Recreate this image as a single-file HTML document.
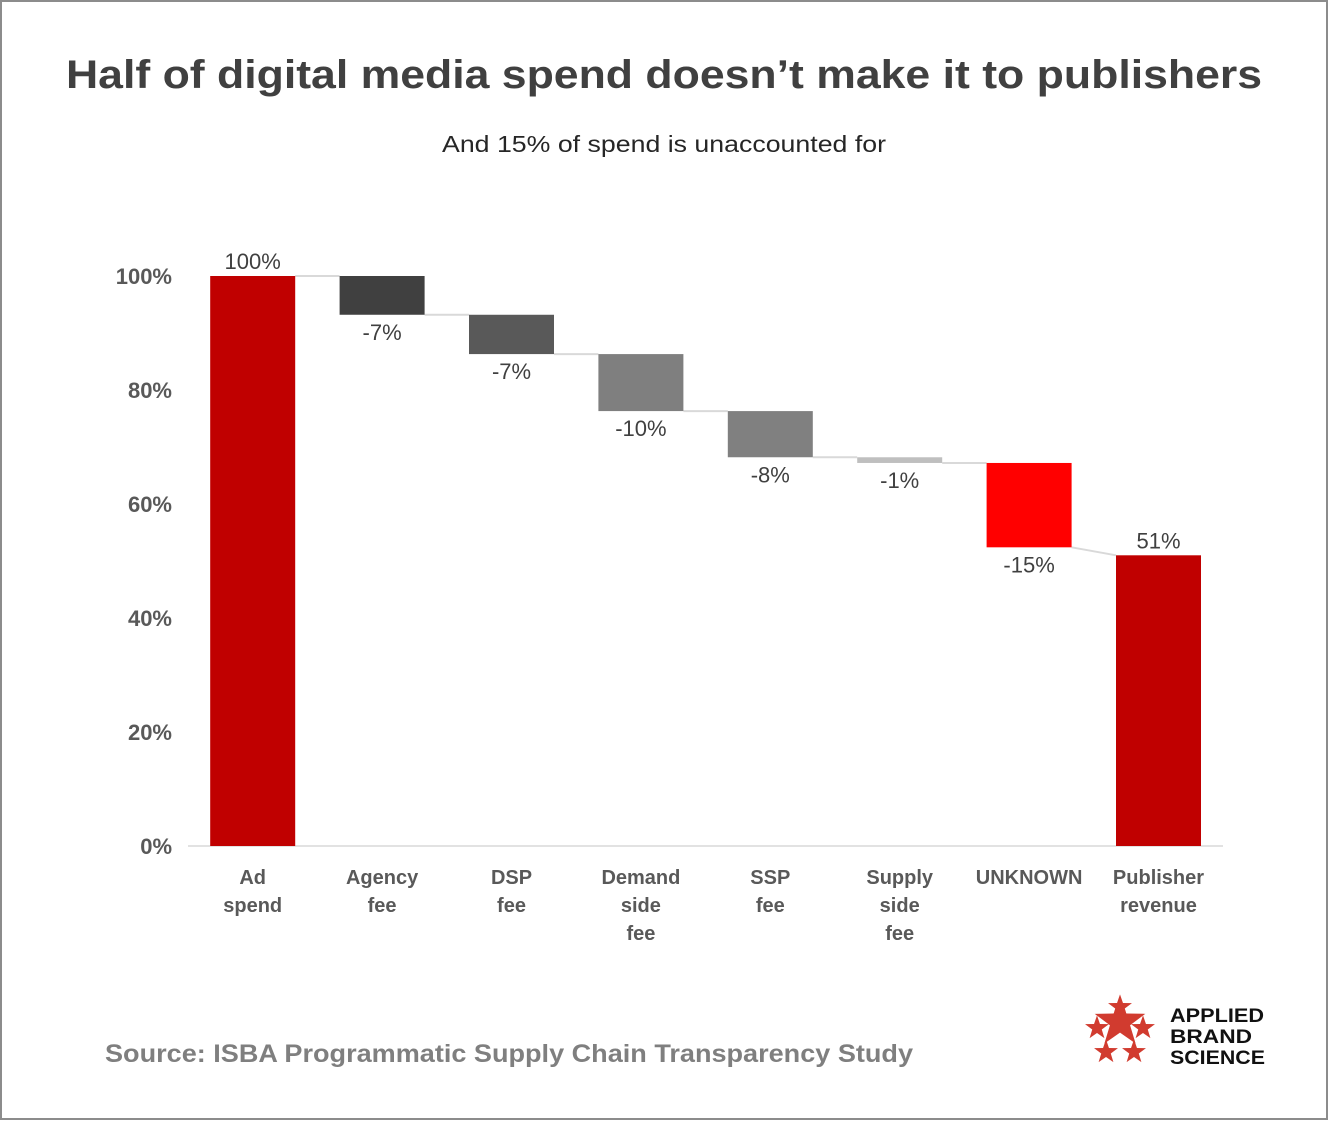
<!DOCTYPE html>
<html><head><meta charset="utf-8"><style>
html,body{margin:0;padding:0;background:#fff}
svg{display:block;font-family:"Liberation Sans",sans-serif}
</style></head><body>
<svg id="chart" width="1330" height="1122" viewBox="0 0 1330 1122">
<rect x="1" y="1" width="1326" height="1118" fill="#fff" stroke="#8c8c8c" stroke-width="2"/>
<text x="664" y="88" text-anchor="middle" font-size="40" font-weight="bold" fill="#404040" textLength="1196" lengthAdjust="spacingAndGlyphs">Half of digital media spend doesn’t make it to publishers</text>
<text x="664" y="152" text-anchor="middle" font-size="23" fill="#262626" textLength="444" lengthAdjust="spacingAndGlyphs">And 15% of spend is unaccounted for</text>
<g id="yaxis"></g>
<line x1="188" y1="846" x2="1223" y2="846" stroke="#d9d9d9" stroke-width="1.5"/>
<g id="connectors"></g>
<g id="bars"></g>
<g id="xlabels"></g>
<text x="105" y="1062" font-size="25" font-weight="bold" fill="#7f7f7f" textLength="808" lengthAdjust="spacingAndGlyphs">Source: ISBA Programmatic Supply Chain Transparency Study</text>
<g>
<g fill="#d13b2f">
<polygon id="st" points="0,-14 3.3,-4.5 13.3,-4.3 5.3,1.7 8.2,11.3 0,5.6 -8.2,11.3 -5.3,1.7 -13.3,-4.3 -3.3,-4.5"/>
</g>
<text x="1170" y="1022" font-size="19" font-weight="bold" fill="#111" textLength="94" lengthAdjust="spacingAndGlyphs">APPLIED</text>
<text x="1170" y="1043" font-size="19" font-weight="bold" fill="#111" textLength="82" lengthAdjust="spacingAndGlyphs">BRAND</text>
<text x="1170" y="1064" font-size="19" font-weight="bold" fill="#111" textLength="95" lengthAdjust="spacingAndGlyphs">SCIENCE</text>
</g>
</svg>
<script>
const categories=[["Ad","spend"],["Agency","fee"],["DSP","fee"],["Demand","side","fee"],["SSP","fee"],["Supply","side","fee"],["UNKNOWN"],["Publisher","revenue"]];
const values=[100,-6.8,-6.9,-10,-8.1,-1,-14.8,51];
const isTotal=[true,false,false,false,false,false,false,true];
const valueLabels=["100%","-7%","-7%","-10%","-8%","-1%","-15%","51%"];
const barColors=["#c00000","#404040","#595959","#7f7f7f","#808080","#bfbfbf","#ff0000","#c00000"];
const yTicks=[0,20,40,60,80,100];
const NS="http://www.w3.org/2000/svg";
const y0=846,yPer=5.7,x0=188,band=129.4,bw=85;
const y=v=>y0-v*yPer;
const xc=i=>x0+band*(i+0.5);
function mk(t,a,p){const e=document.createElementNS(NS,t);for(const k in a)e.setAttribute(k,a[k]);p.appendChild(e);return e;}
const ya=document.getElementById('yaxis');
yTicks.forEach(t=>{const e=mk('text',{x:172,y:y(t)+8,'text-anchor':'end','font-size':22,'font-weight':'bold',fill:'#595959'},ya);e.textContent=t+'%';

});
const bg=document.getElementById('bars'),cg=document.getElementById('connectors'),xg=document.getElementById('xlabels');
let run=0;const ends=[];
values.forEach((v,i)=>{
 let top,bot;
 if(isTotal[i]){top=v;bot=0;run=v;}else{top=run;bot=run+v;run=bot;}
 ends.push({top,bot,end:run});
 const r=mk('rect',{x:xc(i)-bw/2,y:y(top),width:bw,height:Math.max(y(bot)-y(top),1),fill:barColors[i]},bg);
 
 
 const lt=mk('text',{x:xc(i),'text-anchor':'middle','font-size':22,fill:'#404040',y:isTotal[i]?y(top)-7:y(bot)+25},bg);
 lt.textContent=valueLabels[i];
 
 
 categories[i].forEach((w,k)=>{const t=mk('text',{x:xc(i),y:884+k*28,'text-anchor':'middle','font-size':20,'font-weight':'bold',fill:'#595959'},xg);t.textContent=w;
 
 });
});
for(let i=0;i<values.length-1;i++){
 const lv=isTotal[i+1]?values[i+1]:ends[i].end;
 const l=mk('line',{x1:xc(i)+bw/2,y1:y(ends[i].end),x2:xc(i+1)-bw/2,y2:y(isTotal[i+1]?ends[i+1].top:ends[i].end),stroke:'#d9d9d9','stroke-width':2},cg);
 
 
}
const st=document.getElementById('st'),sg=st.parentNode;
[[1120,1022,1.9],[1120,1007,0.9],[1097,1028,0.9],[1143,1028,0.9],[1106,1052,0.9],[1134,1052,0.9]].forEach(([cx,cy,s])=>{
 const u=st.cloneNode();u.removeAttribute('id');u.setAttribute('transform',`translate(${cx},${cy}) scale(${s})`);sg.appendChild(u);
});
st.remove();
</script>
</body></html>
